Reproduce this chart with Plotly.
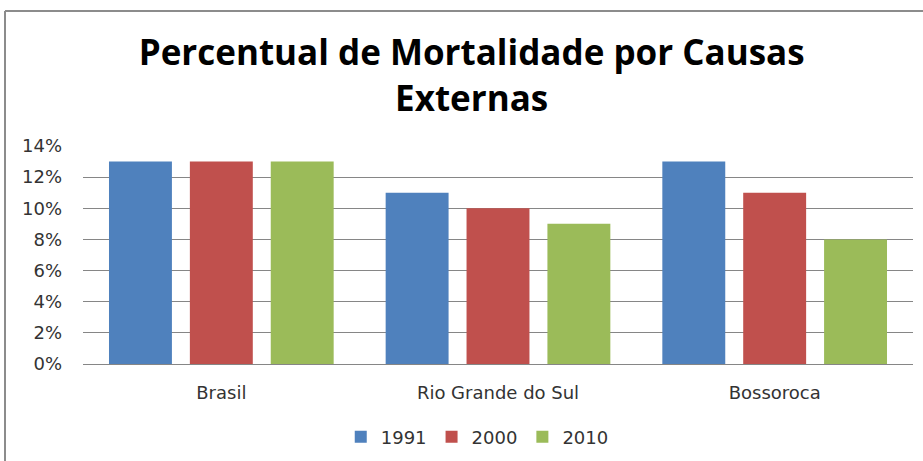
import plotly.graph_objects as go

categories = ["Brasil", "Rio Grande do Sul", "Bossoroca"]
years = ["1991", "2000", "2010"]
values_1991 = [0.13, 0.11, 0.13]
values_2000 = [0.13, 0.10, 0.11]
values_2010 = [0.13, 0.09, 0.08]
colors = ["#4F81BD", "#C0504D", "#9BBB59"]

fig = go.Figure()
for name, vals, col in zip(years, [values_1991, values_2000, values_2010], colors):
    fig.add_trace(go.Bar(x=categories, y=vals, name=name, marker=dict(color=col, line=dict(width=0))))

L, R, T, B = 83, 10, 146, 97
W, H = 923, 461
pw = W - L - R
ph = H - T - B
bx = (5 - L) / pw
by = 1 + (T - 11) / ph

fig.update_layout(
    width=W, height=H,
    margin=dict(l=L, r=R, t=T, b=B, autoexpand=False),
    paper_bgcolor="white", plot_bgcolor="white",
    barmode="group", bargap=0.123, bargroupgap=0.222,
    title=dict(text="Percentual de Mortalidade por Causas<br>Externas",
               font=dict(family="Open Sans", size=35, color="black", weight="bold"),
               x=0.511, xanchor="center", xref="container",
               y=1 - 65 / H, yref="container", yanchor="top"),
    font=dict(family="DejaVu Sans", size=18, color="#333333"),
    xaxis=dict(showline=True, linecolor="#868686", linewidth=1, ticks="", automargin=False,
               ticklabelstandoff=12, tickfont=dict(size=18, color="#333333")),
    yaxis=dict(range=[0, 0.14], dtick=0.02, tickformat=".0%", showgrid=True, gridcolor="#868686",
               gridwidth=1, zeroline=False, showline=False, ticks="", automargin=False,
               ticklabelstandoff=20, tickfont=dict(size=18, color="#333333")),
    legend=dict(orientation="h", x=0.475, xanchor="center", y=1 - 437 / H, yref="container",
                yanchor="middle", font=dict(size=18, color="#333333"), itemwidth=30),
    shapes=[
        dict(type="line", xref="paper", yref="paper", x0=bx, x1=bx, y0=-1, y1=by, line=dict(color="#8c8c8c", width=2)),
        dict(type="line", xref="paper", yref="paper", x0=bx, x1=1.2, y0=by, y1=by, line=dict(color="#8c8c8c", width=2)),
    ],
)
fig.write_html("out.html", config={"displayModeBar": False},
               post_script="document.body.style.margin='0';")
